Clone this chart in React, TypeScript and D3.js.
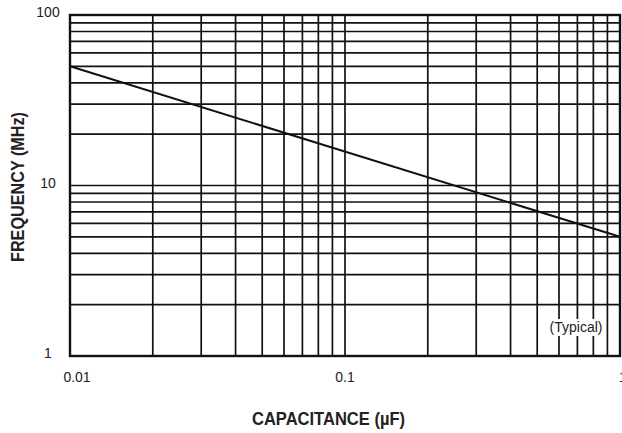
import React, { useEffect, useRef } from 'react';
import * as d3 from 'd3';

// chart data
const xTicks = [0.01, 0.1, 1];
const xTickLabels = ['0.01', '0.1', '1'];
const yTicks = [1, 10, 100];
const yTickLabels = ['1', '10', '100'];
const curveCap = [0.01, 1];
const curveFreq = [50, 5];
const note = '(Typical)';

const App = () => {
  const svgRef = useRef<SVGSVGElement>(null);

  useEffect(() => {
    const svg = d3.select(svgRef.current);
    svg.selectAll('*').remove();

    const width = 622;
    const height = 433;
    const left = 70, right = 620, top = 15, bottom = 356;
    const font = '"Liberation Sans", Arial, Helvetica, sans-serif';

    const x = d3.scaleLog().domain([0.01, 1]).range([left, right]);
    const y = d3.scaleLog().domain([1, 100]).range([bottom, top]);

    svg.attr('width', width).attr('height', height);

    // minor grid values: 1..9 per decade
    const gridX: number[] = [];
    [0.01, 0.1].forEach(d => { for (let i = 1; i <= 9; i++) gridX.push(d * i); });
    const gridY: number[] = [];
    [1, 10].forEach(d => { for (let i = 1; i <= 9; i++) gridY.push(d * i); });

    const g = svg.append('g');

    g.selectAll('line.gx')
      .data(gridX)
      .join('line')
      .attr('x1', d => x(d)).attr('x2', d => x(d))
      .attr('y1', top).attr('y2', bottom)
      .attr('stroke', '#111').attr('stroke-width', 1.7);

    g.selectAll('line.gy')
      .data(gridY)
      .join('line')
      .attr('y1', d => y(d)).attr('y2', d => y(d))
      .attr('x1', left).attr('x2', right)
      .attr('stroke', '#111').attr('stroke-width', 1.7);

    // frame
    g.append('rect')
      .attr('x', left).attr('y', top)
      .attr('width', right - left).attr('height', bottom - top)
      .attr('fill', 'none').attr('stroke', '#111').attr('stroke-width', 2.4);

    // curve
    const line = d3.line<number>()
      .x((d, i) => x(curveCap[i]))
      .y(d => y(d));
    g.append('path')
      .attr('d', line(curveFreq))
      .attr('fill', 'none').attr('stroke', '#111').attr('stroke-width', 2);

    // note with white background
    const noteX = 576, noteY = 332;
    g.append('rect')
      .attr('x', noteX - 30).attr('y', noteY - 13)
      .attr('width', 60).attr('height', 17)
      .attr('fill', '#fff');
    g.append('text')
      .attr('x', noteX).attr('y', noteY)
      .attr('text-anchor', 'middle')
      .attr('font-family', font).attr('font-size', 14)
      .attr('fill', '#222')
      .text(note);

    // tick labels
    const xLabelPos = [77, 345, 619];
    svg.selectAll('text.xt')
      .data(xTicks)
      .join('text')
      .attr('x', (d, i) => xLabelPos[i] ?? x(d))
      .attr('y', 382)
      .attr('text-anchor', (d, i) => (i === 2 ? 'start' : 'middle'))
      .attr('font-family', font).attr('font-size', 14)
      .attr('fill', '#222')
      .text((d, i) => xTickLabels[i]);

    svg.selectAll('text.yt')
      .data(yTicks)
      .join('text')
      .attr('x', 48)
      .attr('y', d => y(d) + 2)
      .attr('text-anchor', 'middle')
      .attr('font-family', font).attr('font-size', 14)
      .attr('fill', '#222')
      .text((d, i) => yTickLabels[i]);

    // axis titles (condensed bold look)
    svg.append('text')
      .attr('x', 252).attr('y', 425)
      .attr('font-family', font).attr('font-size', 19).attr('font-weight', 'bold')
      .attr('textLength', 153).attr('lengthAdjust', 'spacingAndGlyphs')
      .attr('fill', '#222')
      .text('CAPACITANCE (µF)');

    svg.append('text')
      .attr('transform', `translate(24,262) rotate(-90)`)
      .attr('font-family', font).attr('font-size', 19).attr('font-weight', 'bold')
      .attr('textLength', 150).attr('lengthAdjust', 'spacingAndGlyphs')
      .attr('fill', '#222')
      .text('FREQUENCY (MHz)');
  }, []);

  return (
    <svg ref={svgRef} style={{ position: 'absolute', left: 0, top: 0 }} />
  );
};

export default App;
